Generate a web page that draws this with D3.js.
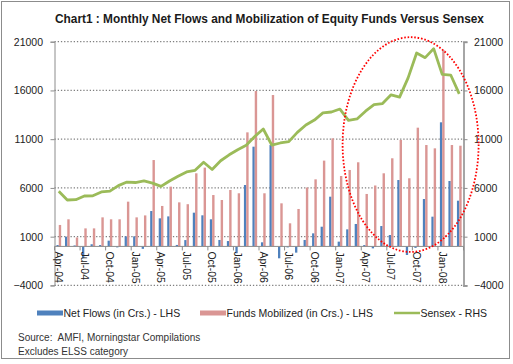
<!DOCTYPE html>
<html><head><meta charset="utf-8">
<script src="https://cdn.jsdelivr.net/npm/d3@7"></script>
<style>body{margin:0;background:#fff}svg{display:block;font-family:"Liberation Sans",Arial,sans-serif}</style>
</head><body>
<script>
const months = ["Apr-04","May-04","Jun-04","Jul-04","Aug-04","Sep-04","Oct-04","Nov-04","Dec-04","Jan-05","Feb-05","Mar-05",
"Apr-05","May-05","Jun-05","Jul-05","Aug-05","Sep-05","Oct-05","Nov-05","Dec-05","Jan-06","Feb-06","Mar-06",
"Apr-06","May-06","Jun-06","Jul-06","Aug-06","Sep-06","Oct-06","Nov-06","Dec-06","Jan-07","Feb-07","Mar-07",
"Apr-07","May-07","Jun-07","Jul-07","Aug-07","Sep-07","Oct-07","Nov-07","Dec-07","Jan-08","Feb-08","Mar-08"];
const netFlows = [140,1000,100,-1200,220,140,590,-100,1030,1030,-250,3630,2880,3080,150,650,3460,3190,2780,660,550,-700,6300,10230,
420,10400,-1220,-100,-640,660,1340,2020,5100,490,1750,2300,140,-200,2090,1170,6810,-880,-150,4860,3050,12730,6710,4690];
const fundsMobilized = [2200,2780,920,1850,1850,2980,2780,2780,4590,2980,3180,8860,4150,6130,4520,4330,7500,8080,5270,4760,5790,5450,11700,15940,
5450,15530,4420,2370,3840,6040,6880,8800,11090,7220,7840,8630,5380,6250,7500,9040,10920,6990,12180,10400,10060,20150,10400,10330];
const sensex = [5655,4760,4795,5170,5192,5584,5672,6234,6603,6555,6714,6493,6155,6715,7194,7635,7805,8634,7892,8789,9398,9920,10370,11280,
12043,10399,10609,10744,11699,12454,12962,13696,13787,14091,12938,13072,13872,14544,14651,15551,15319,17291,19838,19363,20287,17649,17579,15644];
const axisTicks = [-4000,1000,6000,11000,16000,21000];
const xLabels = ["Apr-04","Jul-04","Oct-04","Jan-05","Apr-05","Jul-05","Oct-05","Jan-06","Apr-06","Jul-06","Oct-06","Jan-07","Apr-07","Jul-07","Oct-07","Jan-08"];
const legendItems = ["Net Flows (in Crs.) - LHS","Funds Mobilized (in Crs.) - LHS","Sensex - RHS"];

const W=513,H=364;
const C={blue:"#4F81BD",pink:"#DA9694",green:"#9BBB59",grid:"#808080",axis:"#8c8c8c",text:"#222"};
const svg=d3.select("body").append("svg").attr("width",W).attr("height",H);
svg.append("rect").attr("x",1.5).attr("y",1.5).attr("width",508).attr("height",357).attr("fill","#fff").attr("stroke","#8c8c8c");

const L=54.5,R=463.5,T=41.7,B=285.4;
const x=d3.scaleBand().domain(months).range([L,R]).padding(0);
const y=d3.scaleLinear().domain([-4000,21000]).range([B,T]);
const yR=d3.scaleLinear().domain([-4000,21000]).range([B,T]);
const bw=x.bandwidth();

// title, sized to fit its reference width
const title=svg.append("text").attr("x",55).attr("y",23).attr("font-weight","bold").attr("font-size",13).attr("fill","#1a1a1a")
  .text("Chart1 : Monthly Net Flows and Mobilization of Equity Funds Versus Sensex");
const tw=title.node().getComputedTextLength();
title.attr("font-size",13*429/tw);

// grid
svg.append("g").selectAll("line").data(axisTicks).join("line")
  .attr("x1",L).attr("x2",R).attr("y1",d=>y(d)).attr("y2",d=>y(d))
  .attr("stroke",C.grid).attr("stroke-width",1.3).attr("stroke-dasharray","1.3,1.9");

// left axis
const gl=svg.append("g").attr("transform",`translate(${L},0)`).call(d3.axisLeft(y).tickValues(axisTicks).tickSize(4).tickFormat(d3.format("d")));
gl.select(".domain").attr("stroke",C.axis);
gl.selectAll(".tick line").attr("stroke",C.axis);
gl.selectAll("text").attr("font-size",10.5).attr("fill",C.text).attr("font-family","Liberation Sans, Arial").attr("x",-11.5);
// right axis
const gr=svg.append("g").attr("transform",`translate(${R},0)`).call(d3.axisRight(yR).tickValues(axisTicks).tickSize(4).tickFormat(d3.format("d")));
gr.select(".domain").attr("stroke","#a6a6a6").attr("stroke-width",2);
gr.selectAll(".tick line").attr("stroke",C.axis);
gr.selectAll("text").attr("font-size",10.5).attr("fill",C.text).attr("font-family","Liberation Sans, Arial").attr("x",10.5);

// bars
svg.append("g").selectAll("rect").data(netFlows).join("rect")
  .attr("x",(d,i)=>x(months[i])+bw/2-2.3).attr("width",2.3)
  .attr("y",d=>y(Math.max(0,d))).attr("height",d=>Math.abs(y(d)-y(0))).attr("fill",C.blue);
svg.append("g").selectAll("rect").data(fundsMobilized).join("rect")
  .attr("x",(d,i)=>x(months[i])+bw/2).attr("width",2.4)
  .attr("y",d=>y(Math.max(0,d))).attr("height",d=>Math.abs(y(d)-y(0))).attr("fill",C.pink);

// category axis at 0
const y0=y(0);
svg.append("line").attr("x1",L).attr("x2",R).attr("y1",y0).attr("y2",y0).attr("stroke",C.axis);
const tickIdx=d3.range(0,months.length+1,3);
svg.append("g").selectAll("line").data(tickIdx).join("line")
  .attr("x1",i=>L+i*bw).attr("x2",i=>L+i*bw).attr("y1",y0).attr("y2",y0+4).attr("stroke",C.axis);
svg.append("g").selectAll("text").data(xLabels).join("text")
  .attr("transform",d=>`translate(${x(d)+bw/2},${y0+5}) rotate(90)`)
  .attr("dy","0.35em").attr("font-size",10.5).attr("fill",C.text).text(d=>d);

// sensex line
svg.append("path").datum(sensex).attr("fill","none").attr("stroke",C.green).attr("stroke-width",2.8)
  .attr("stroke-linejoin","round")
  .attr("d",d3.line().x((d,i)=>x(months[i])+bw/2).y(d=>yR(d)));

// annotation ellipse
svg.append("ellipse").attr("cx",x("Sep-07")+bw/2+2.5).attr("cy",(yR(21000)+yR(0))/2+0.5)
  .attr("rx",68).attr("ry",(yR(0)-yR(21000))/2+5)
  .attr("fill","none").attr("stroke","#ff0000").attr("stroke-width",1.8).attr("stroke-dasharray","1.6,1.8");

// legend
const lg=svg.append("g").attr("font-size",10.5).attr("fill",C.text);
lg.append("rect").attr("x",37).attr("y",310.5).attr("width",26).attr("height",5).attr("fill",C.blue);
lg.append("text").attr("x",63.5).attr("y",317).text(legendItems[0]);
lg.append("rect").attr("x",200).attr("y",310.5).attr("width",26).attr("height",5).attr("fill",C.pink);
lg.append("text").attr("x",226.5).attr("y",317).text(legendItems[1]);
lg.append("line").attr("x1",394).attr("x2",420).attr("y1",313).attr("y2",313).attr("stroke",C.green).attr("stroke-width",2.5);
lg.append("text").attr("x",420.5).attr("y",317).text(legendItems[2]);

// notes
svg.append("text").attr("x",18).attr("y",341).attr("font-size",10).attr("fill","#333").attr("xml:space","preserve").text("Source:  AMFI, Morningstar Compilations");
svg.append("text").attr("x",18).attr("y",355).attr("font-size",10).attr("fill","#333").text("Excludes ELSS category");
</script>
</body></html>
